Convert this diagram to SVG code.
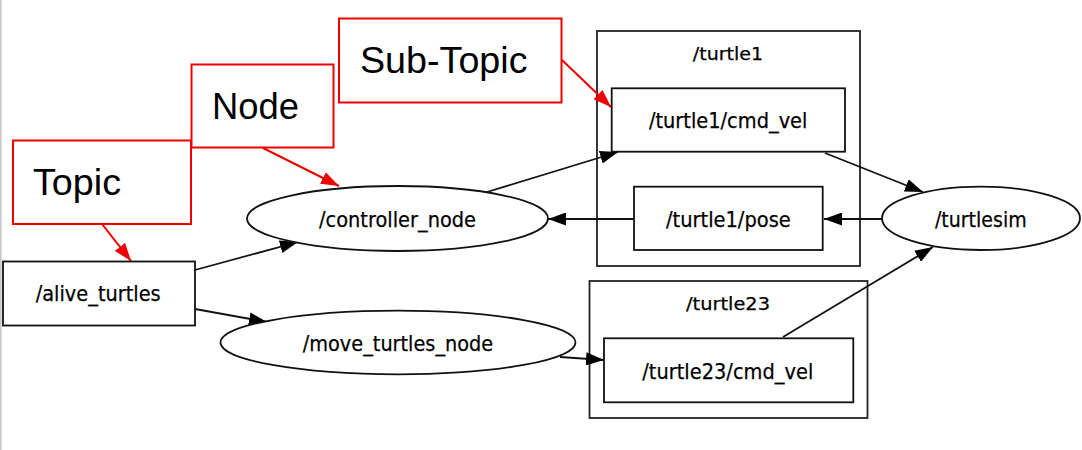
<svg xmlns="http://www.w3.org/2000/svg" width="1082" height="450" viewBox="0 0 1082 450">
<defs>
<style>
.bg{fill:#ffffff}
.cl{fill:none;stroke:#222;stroke-width:1.8}
.nd{fill:#fff;stroke:#111;stroke-width:1.8}
.tx{font-family:"DejaVu Sans",sans-serif;font-size:21.5px;fill:#000;text-anchor:middle;stroke:#000;stroke-width:0.25}
.ct{font-size:18.5px}
.lb{fill:#fff;stroke:#ee0000;stroke-width:2}
.lt{font-family:"Liberation Sans",Arial,sans-serif;font-size:36.5px;fill:#000}
.e{fill:none;stroke:#111;stroke-width:1.8}
.r{fill:none;stroke:#ee0000;stroke-width:2}
</style>
<marker id="ah" viewBox="0 0 18 13" refX="18" refY="6.5" markerWidth="18" markerHeight="13" markerUnits="userSpaceOnUse" orient="auto">
<path d="M0,0 L18,6.5 L0,13 Z" fill="#000"/>
</marker>
<marker id="rh" viewBox="0 0 18 13" refX="18" refY="6.5" markerWidth="18" markerHeight="13" markerUnits="userSpaceOnUse" orient="auto">
<path d="M0,0 L18,6.5 L0,13 Z" fill="#ee0000"/>
</marker>
</defs>
<rect class="bg" x="0" y="0" width="1082" height="450"/>
<line x1="0.8" y1="0" x2="0.8" y2="450" stroke="#c8c8c8" stroke-width="1.6"/>

<g id="cluster-turtle1">
<rect class="cl" x="597" y="31" width="263" height="235"/>
<text class="tx ct" x="728" y="60" textLength="70.5" lengthAdjust="spacingAndGlyphs">/turtle1</text>
</g>
<g id="cluster-turtle23">
<rect class="cl" x="589.5" y="281" width="278" height="137"/>
<text class="tx ct" x="728" y="310" textLength="84" lengthAdjust="spacingAndGlyphs">/turtle23</text>
</g>

<g id="connectors">
<line class="e" x1="195" y1="270" x2="298" y2="242" marker-end="url(#ah)"/>
<line class="e" x1="195" y1="309" x2="267" y2="322" marker-end="url(#ah)"/>
<line class="e" x1="487" y1="192" x2="618" y2="152" marker-end="url(#ah)"/>
<line class="e" x1="825" y1="153" x2="923" y2="192" marker-end="url(#ah)"/>
<line class="e" x1="882" y1="219" x2="824" y2="219" marker-end="url(#ah)"/>
<line class="e" x1="634" y1="219" x2="548" y2="219" marker-end="url(#ah)"/>
<line class="e" x1="560" y1="357" x2="604" y2="360" marker-end="url(#ah)"/>
<line class="e" x1="783" y1="337" x2="933" y2="247" marker-end="url(#ah)"/>
<line class="r" x1="102" y1="224" x2="131" y2="261" marker-end="url(#rh)"/>
<line class="r" x1="263" y1="148" x2="339" y2="186" marker-end="url(#rh)"/>
<line class="r" x1="562" y1="60" x2="611" y2="107" marker-end="url(#rh)"/>
</g>

<g id="label-topic">
<rect class="lb" x="13" y="140.5" width="178" height="83.5"/>
<text class="lt" x="33" y="195" textLength="88" lengthAdjust="spacingAndGlyphs">Topic</text>
</g>
<g id="label-node">
<rect class="lb" x="191.5" y="64.5" width="142" height="83"/>
<text class="lt" x="212" y="119" textLength="87" lengthAdjust="spacingAndGlyphs">Node</text>
</g>
<g id="label-subtopic">
<rect class="lb" x="339" y="18.5" width="222.5" height="84"/>
<text class="lt" x="360" y="73" textLength="167.5" lengthAdjust="spacingAndGlyphs">Sub-Topic</text>
</g>

<g id="node-alive_turtles">
<rect class="nd" x="3" y="261.5" width="192" height="64"/>
<text class="tx" x="98.2" y="301" textLength="125" lengthAdjust="spacingAndGlyphs">/alive_turtles</text>
</g>
<g id="node-controller_node">
<ellipse class="nd" cx="397.5" cy="218.5" rx="150.5" ry="32.5"/>
<text class="tx" x="397.5" y="227" textLength="157" lengthAdjust="spacingAndGlyphs">/controller_node</text>
</g>
<g id="node-move_turtles_node">
<ellipse class="nd" cx="398" cy="342.5" rx="177.5" ry="31.8"/>
<text class="tx" x="398" y="351" textLength="190.5" lengthAdjust="spacingAndGlyphs">/move_turtles_node</text>
</g>
<g id="node-turtle1-cmd_vel">
<rect class="nd" x="611.7" y="88.3" width="233.3" height="63.4"/>
<text class="tx" x="728.2" y="128" textLength="158.5" lengthAdjust="spacingAndGlyphs">/turtle1/cmd_vel</text>
</g>
<g id="node-turtle1-pose">
<rect class="nd" x="634" y="186.7" width="188.7" height="63.3"/>
<text class="tx" x="728.4" y="226.5" textLength="124.7" lengthAdjust="spacingAndGlyphs">/turtle1/pose</text>
</g>
<g id="node-turtlesim">
<ellipse class="nd" cx="981" cy="218.3" rx="99" ry="31.7"/>
<text class="tx" x="980.8" y="226.5" textLength="91.7" lengthAdjust="spacingAndGlyphs">/turtlesim</text>
</g>
<g id="node-turtle23-cmd_vel">
<rect class="nd" x="604" y="338.3" width="249.3" height="64"/>
<text class="tx" x="727.8" y="378.5" textLength="171" lengthAdjust="spacingAndGlyphs">/turtle23/cmd_vel</text>
</g>
</svg>
